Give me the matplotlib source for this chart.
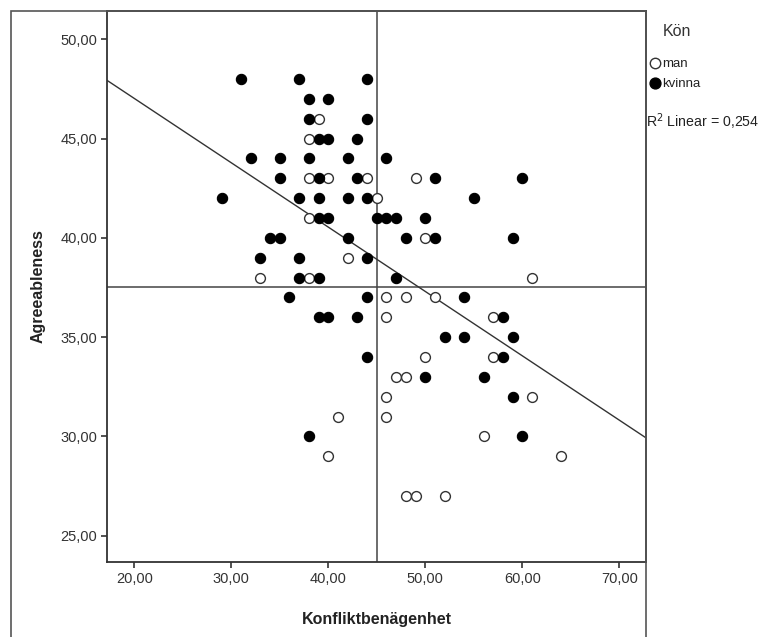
import matplotlib.pyplot as plt
from matplotlib.lines import Line2D
from matplotlib.patches import Rectangle

plt.rcParams['font.family'] = ['Liberation Sans', 'DejaVu Sans']

# Konfliktbenägenhet (x) och Agreeableness (y) per kön
man_x = [39, 38, 38, 40, 44, 49, 45, 38, 50, 42, 33, 38, 61, 46, 48, 51,
         46, 57, 50, 57, 47, 48, 46, 61, 41, 46, 56, 40, 64, 48, 49, 52]
man_y = [46, 45, 43, 43, 43, 43, 42, 41, 40, 39, 38, 38, 38, 37, 37, 37,
         36, 36, 34, 34, 33, 33, 32, 32, 31, 31, 30, 29, 29, 27, 27, 27]

kvinna_x = [31, 37, 44, 38, 40, 38, 44, 39, 40, 43, 32, 35, 38, 42, 46,
            35, 39, 43, 51, 60, 29, 37, 39, 42, 44, 55, 39, 40, 45, 46, 47, 50,
            34, 35, 42, 48, 51, 59, 33, 37, 44, 37, 39, 47, 36, 44, 54,
            39, 40, 43, 58, 52, 54, 59, 44, 58, 50, 56, 59, 38, 60]
kvinna_y = [48, 48, 48, 47, 47, 46, 46, 45, 45, 45, 44, 44, 44, 44, 44,
            43, 43, 43, 43, 43, 42, 42, 42, 42, 42, 42, 41, 41, 41, 41, 41, 41,
            40, 40, 40, 40, 40, 40, 39, 39, 39, 38, 38, 38, 37, 37, 37,
            36, 36, 36, 36, 35, 35, 35, 34, 34, 33, 33, 32, 30, 30]

# linjär anpassning och referenslinjer (avlästa)
fit_intercept = 53.51
fit_slope = -0.3242
ref_x = 45.0
ref_y = 37.52
r2_text = "Linear = 0,254"

xticks = [20, 30, 40, 50, 60, 70]
yticks = [25, 30, 35, 40, 45, 50]

W, H = 765, 637
fig = plt.figure(figsize=(W / 100, H / 100), dpi=100)
ax = fig.add_axes([107 / W, 1 - 562 / H, (646 - 107) / W, (562 - 11) / H])

xlim = (17.19, 72.75)
ylim = (23.67, 51.43)

gray = '#333333'
ax.axvline(ref_x, color='#444444', lw=1.1, zorder=1)
ax.axhline(ref_y, color='#444444', lw=1.1, zorder=1)
ax.plot(xlim, [fit_intercept + fit_slope * v for v in xlim], color='#333333', lw=1.0, zorder=1)

ax.scatter(man_x, man_y, s=50, facecolors='white', edgecolors=gray, linewidths=1.0, zorder=3)
ax.scatter(kvinna_x, kvinna_y, s=55, facecolors='black', edgecolors='black', linewidths=0.8, zorder=3)

ax.set_xlim(xlim)
ax.set_ylim(ylim)
ax.set_xticks(xticks)
ax.set_xticklabels([f"{v:.2f}".replace('.', ',') for v in xticks])
ax.set_yticks(yticks)
ax.set_yticklabels([f"{v:.2f}".replace('.', ',') for v in yticks])
ax.tick_params(direction='out', length=4, width=1.2, color='#333333',
               labelsize=10.5, labelcolor='#333333', pad=3)
for sp in ax.spines.values():
    sp.set_color('#333333')
    sp.set_linewidth(1.3)

ax.set_xlabel("Konfliktbenägenhet", fontsize=11.5, fontweight='bold', labelpad=19, color='#222222')
ax.set_ylabel("Agreeableness", fontsize=11.5, fontweight='bold', labelpad=11, color='#222222')

# yttre ram
fig.add_artist(Rectangle((11 / W, -0.1), (646 - 11) / W, 1.1 - 11 / H,
                         transform=fig.transFigure, fill=False,
                         edgecolor='#555555', lw=1.2, clip_on=False))

# legend
fig.text(663 / W, 1 - 31 / H, "Kön", fontsize=11.5, color='#333333', va='center', ha='left')
fig.add_artist(Line2D([655 / W], [1 - 63 / H], marker='o', markersize=7.5,
                      markerfacecolor='white', markeredgecolor=gray, markeredgewidth=1.0,
                      transform=fig.transFigure))
fig.text(662 / W, 1 - 64 / H, "man", fontsize=9.5, color='#222222', va='center', ha='left')
fig.add_artist(Line2D([655 / W], [1 - 83 / H], marker='o', markersize=7.8,
                      markerfacecolor='black', markeredgecolor='black',
                      transform=fig.transFigure))
fig.text(662 / W, 1 - 84 / H, "kvinna", fontsize=9.5, color='#222222', va='center', ha='left')
fig.text(646 / W, 1 - 122 / H, "R$^2$ " + r2_text, fontsize=10.2, color='#222222', va='center', ha='left')

fig.savefig("out.png", dpi=100)
